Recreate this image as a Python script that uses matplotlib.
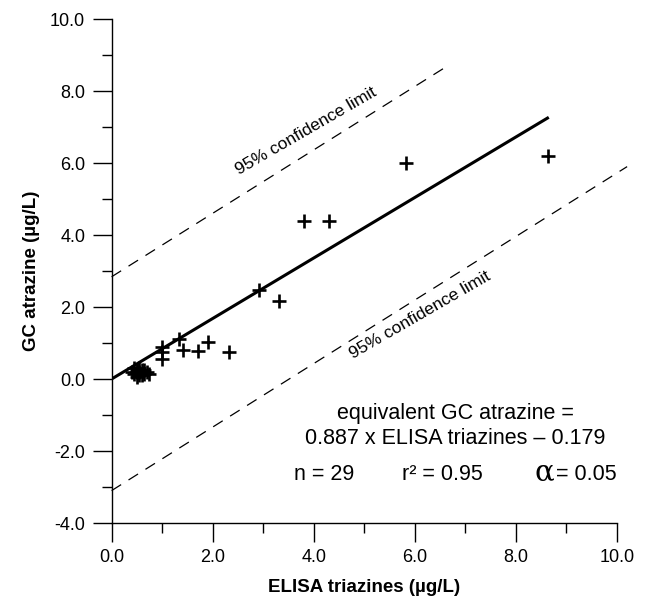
import matplotlib
matplotlib.use("Agg")
import matplotlib.pyplot as plt
from matplotlib.ticker import MultipleLocator, FormatStrFormatter

plt.rcParams['font.family'] = ['Liberation Sans', 'DejaVu Sans']

# ELISA triazines vs GC atrazine (ug/L)
elisa = [0.45, 0.50, 0.45, 0.55, 0.50, 0.60, 0.65, 0.70, 0.75, 0.55, 0.60, 0.50, 0.65, 0.40, 0.55,
         1.00, 1.00, 1.00, 1.33, 1.42, 1.71, 1.91, 2.32, 2.92, 3.32, 3.81, 4.31, 5.82, 8.63]
gc = [0.30, 0.20, 0.15, 0.10, 0.05, 0.25, 0.15, 0.20, 0.15, 0.30, 0.10, 0.25, 0.25, 0.20, 0.20,
      0.90, 0.76, 0.55, 1.10, 0.81, 0.78, 1.03, 0.76, 2.47, 2.17, 4.39, 4.39, 6.00, 6.19]

# regression line and confidence limits (end points)
fit_x = [0.0, 8.65]
fit_y = [0.0, 7.27]
upper_x = [0.0, 6.65]
upper_y = [2.84, 8.70]
lower_x = [0.0, 10.2]
lower_y = [-3.10, 5.90]

fig = plt.figure(figsize=(6.45, 6.02), dpi=100)
ax = fig.add_axes([0.173, 0.1312, 0.7836, 0.8372])

ax.plot(fit_x, fit_y, color='black', lw=2.2, solid_capstyle='butt')
ax.plot(upper_x, upper_y, color='black', lw=0.9, dashes=(9, 7), clip_on=False)
ax.plot(lower_x, lower_y, color='black', lw=0.9, dashes=(9, 7), clip_on=False)
ax.plot(elisa, gc, ls='none', marker='+', color='black', ms=9.5, mew=1.9)

ax.set_xlim(0, 10)
ax.set_ylim(-4, 10)
ax.spines['top'].set_visible(False)
ax.spines['right'].set_visible(False)
ax.spines['left'].set_linewidth(1.0)
ax.spines['bottom'].set_linewidth(1.0)

ax.xaxis.set_major_locator(MultipleLocator(2))
ax.xaxis.set_minor_locator(MultipleLocator(1))
ax.yaxis.set_major_locator(MultipleLocator(2))
ax.yaxis.set_minor_locator(MultipleLocator(1))
ax.xaxis.set_major_formatter(FormatStrFormatter('%.1f'))
ax.yaxis.set_major_formatter(FormatStrFormatter('%.1f'))
ax.tick_params(which='major', direction='out', length=14, width=1.0, labelsize=13, pad=5)
ax.tick_params(which='minor', direction='out', length=7, width=1.0)

ax.set_xlabel('ELISA triazines (µg/L)', fontsize=13.5, fontweight='bold', labelpad=9)
ax.set_ylabel('GC atrazine (µg/L)', fontsize=13.5, fontweight='bold', labelpad=7)

ax.text(3.85, 6.89, '95% confidence limit', fontsize=12.5, rotation=30,
        ha='center', va='center', rotation_mode='anchor')
ax.text(6.1, 1.78, '95% confidence limit', fontsize=12.5, rotation=30,
        ha='center', va='center', rotation_mode='anchor')

ax.text(6.8, -0.95, 'equivalent GC atrazine =', fontsize=15.5, ha='center', va='center')
ax.text(6.8, -1.65, '0.887 x ELISA triazines \u2013 0.179', fontsize=15.5, ha='center', va='center')
ax.text(4.2, -2.65, 'n = 29', fontsize=15.5, ha='center', va='center')
ax.text(6.54, -2.65, 'r\u00b2 = 0.95', fontsize=15.5, ha='center', va='center')
ax.text(8.76, -2.6, '\u03b1', fontsize=21, family=['DejaVu Serif'], ha='right', va='center')
ax.text(8.8, -2.65, '= 0.05', fontsize=15.5, ha='left', va='center')

fig.savefig('out.png', dpi=100)
